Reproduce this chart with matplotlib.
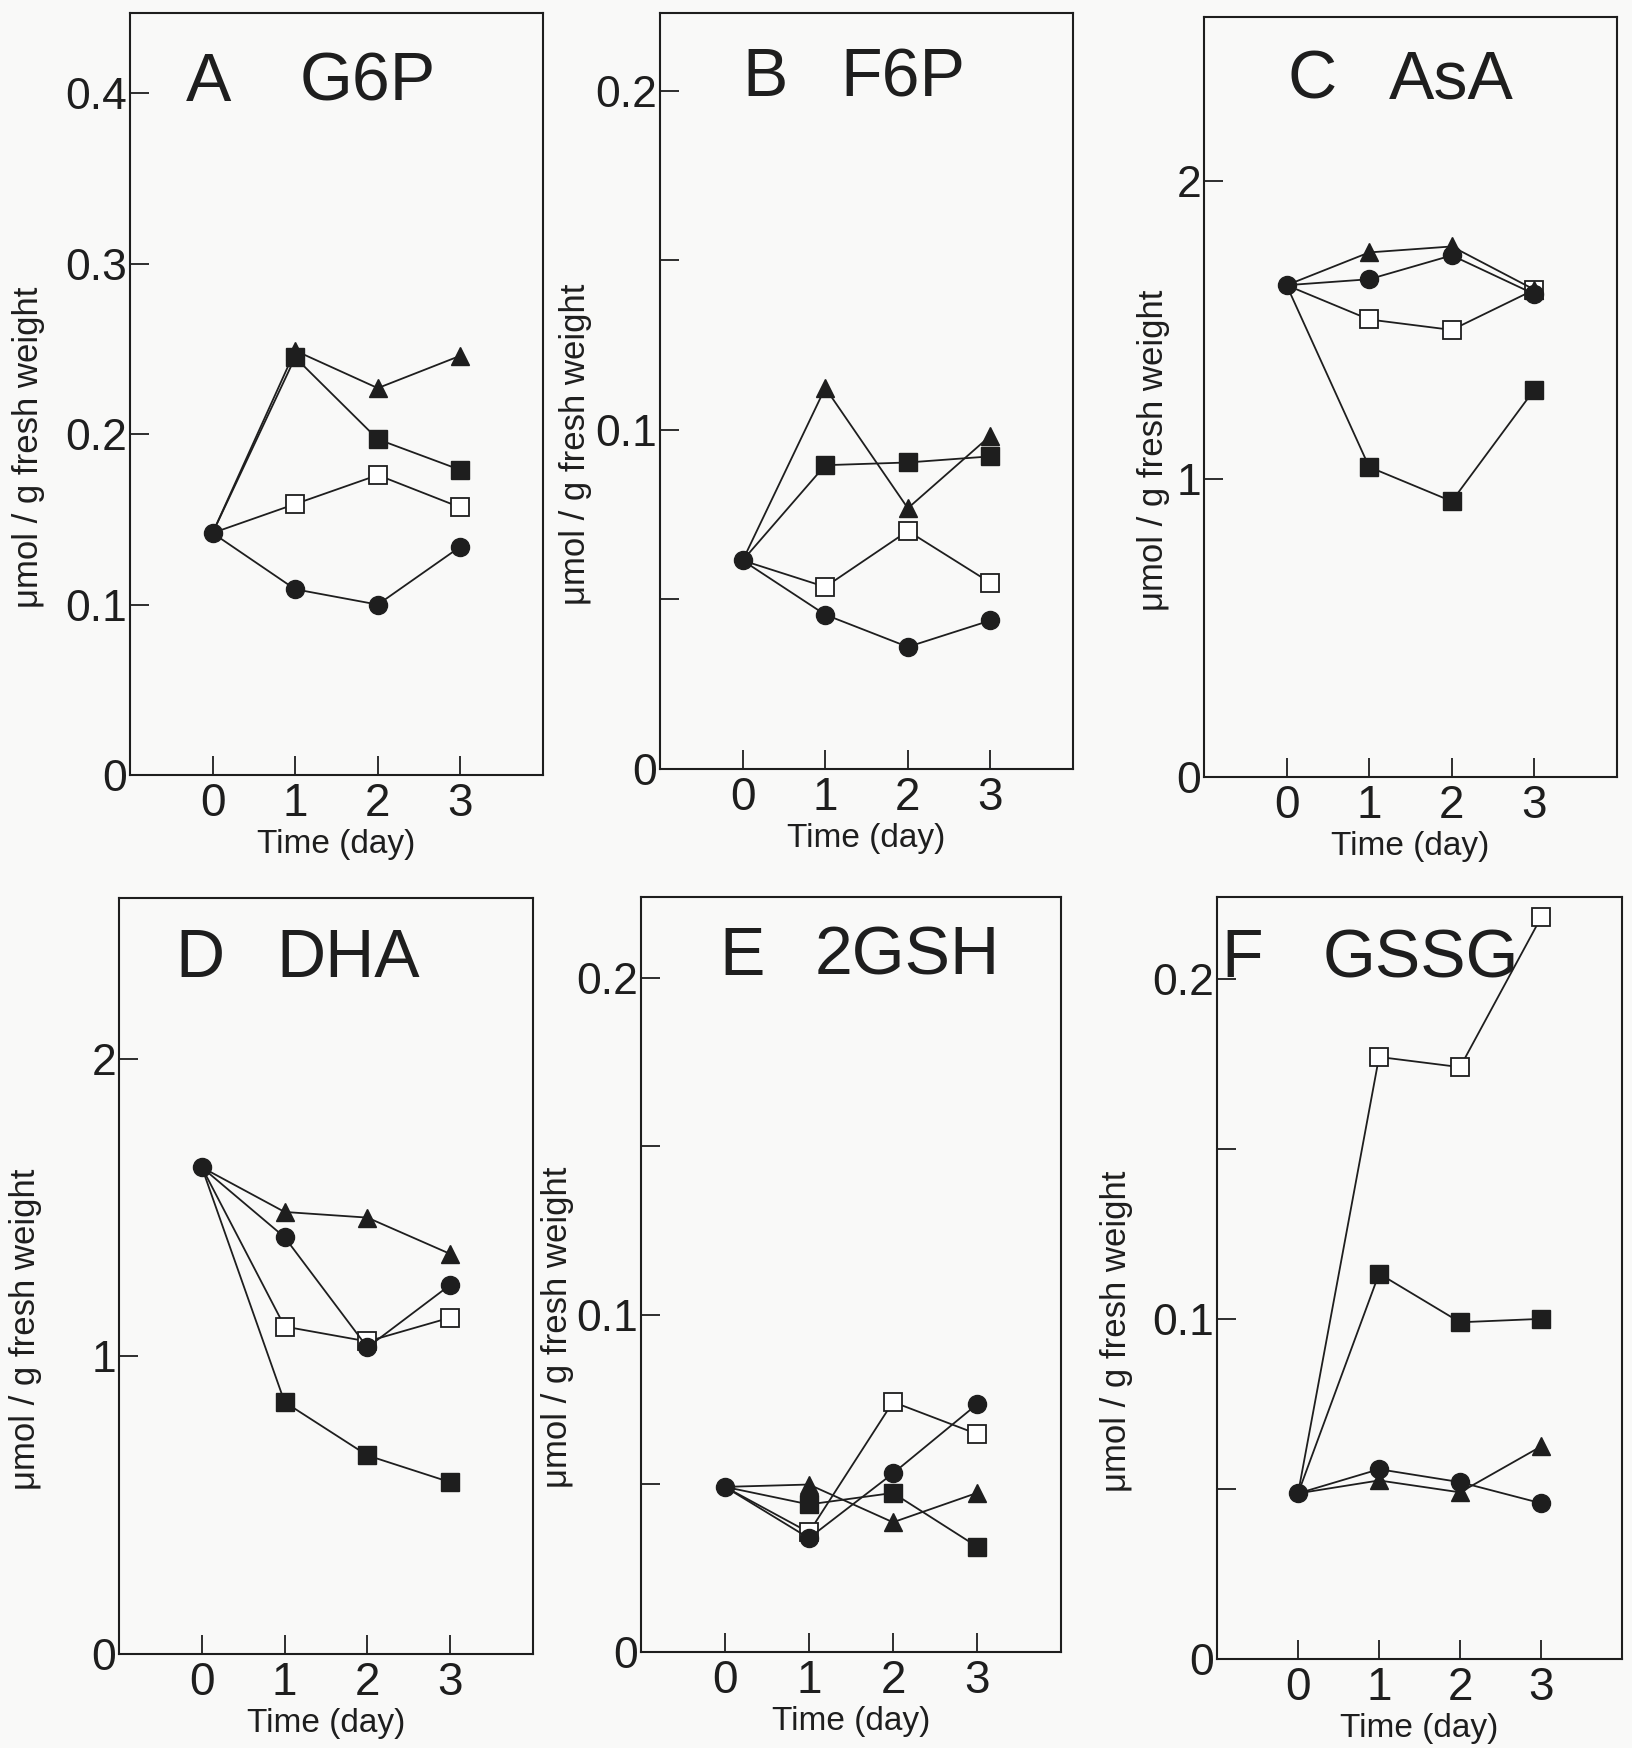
import matplotlib
matplotlib.use("Agg")
import matplotlib.pyplot as plt

# Time points (day)
days = [0, 1, 2, 3]

# Panel A: G6P
g6p_circle = [0.142, 0.109, 0.100, 0.134]
g6p_triangle = [0.142, 0.249, 0.227, 0.246]
g6p_filled_sq = [0.142, 0.245, 0.197, 0.179]
g6p_open_sq = [0.142, 0.159, 0.176, 0.157]

# Panel B: F6P
f6p_circle = [0.0615, 0.0455, 0.036, 0.0438]
f6p_triangle = [0.0615, 0.1124, 0.0769, 0.0983]
f6p_filled_sq = [0.0615, 0.0896, 0.0904, 0.0922]
f6p_open_sq = [0.0615, 0.0537, 0.0702, 0.0549]

# Panel C: AsA
asa_circle = [1.65, 1.67, 1.75, 1.62]
asa_triangle = [1.65, 1.76, 1.78, 1.635]
asa_filled_sq = [1.65, 1.04, 0.925, 1.30]
asa_open_sq = [1.65, 1.535, 1.50, 1.635]

# Panel D: DHA
dha_circle = [1.635, 1.40, 1.03, 1.24]
dha_triangle = [1.635, 1.485, 1.466, 1.344]
dha_filled_sq = [1.635, 0.846, 0.667, 0.577]
dha_open_sq = [1.635, 1.10, 1.05, 1.13]

# Panel E: 2GSH
gsh_circle = [0.049, 0.0338, 0.053, 0.0735]
gsh_triangle = [0.049, 0.0497, 0.0385, 0.0472]
gsh_filled_sq = [0.049, 0.0438, 0.0472, 0.0313]
gsh_open_sq = [0.049, 0.0355, 0.0742, 0.0647]

# Panel F: GSSG
gssg_circle = [0.0487, 0.0558, 0.052, 0.0458]
gssg_triangle = [0.0487, 0.0525, 0.049, 0.0625]
gssg_filled_sq = [0.0487, 0.1133, 0.099, 0.100]
gssg_open_sq = [0.0487, 0.177, 0.174, 0.218]

# Y axis ticks and labels
ticks_04 = [0, 0.1, 0.2, 0.3, 0.4]
labels_04 = ["0", "0.1", "0.2", "0.3", "0.4"]
ticks_02 = [0, 0.05, 0.1, 0.15, 0.2]
labels_02 = ["0", "", "0.1", "", "0.2"]
ticks_2 = [0, 1, 2]
labels_2 = ["0", "1", "2"]

INK = "#1e1e1e"
BG = "#f9f9f8"
TEXT_FONT = ["Liberation Sans", "DejaVu Sans"]

panels = [
    # letter, name, position, ymax, ticks, labels, series, title x (letter, name), title y, ylabel x
    ("A", "G6P", [0.0796, 0.5566, 0.2529, 0.4359], 0.447, ticks_04, labels_04,
     (g6p_circle, g6p_triangle, g6p_filled_sq, g6p_open_sq), (0.136, 0.41), 0.885, -0.205),
    ("B", "F6P", [0.4042, 0.5601, 0.2529, 0.4325], 0.223, ticks_02, labels_02,
     (f6p_circle, f6p_triangle, f6p_filled_sq, f6p_open_sq), (0.199, 0.436), 0.89, -0.165),
    ("C", "AsA", [0.7373, 0.5555, 0.2529, 0.4348], 2.55, ticks_2, labels_2,
     (asa_circle, asa_triangle, asa_filled_sq, asa_open_sq), (0.203, 0.448), 0.893, -0.082),
    ("D", "DHA", [0.0729, 0.0538, 0.2535, 0.4325], 2.54, ticks_2, labels_2,
     (dha_circle, dha_triangle, dha_filled_sq, dha_open_sq), (0.135, 0.38), 0.895, -0.185),
    ("E", "2GSH", [0.3925, 0.0549, 0.2572, 0.4319], 0.224, ticks_02, labels_02,
     (gsh_circle, gsh_triangle, gsh_filled_sq, gsh_open_sq), (0.186, 0.414), 0.897, -0.16),
    ("F", "GSSG", [0.7453, 0.0509, 0.2480, 0.4359], 0.224, ticks_02, labels_02,
     (gssg_circle, gssg_triangle, gssg_filled_sq, gssg_open_sq), (0.01, 0.26), 0.895, -0.208),
]


def draw_panel(fig, letter, name, pos, ymax, yticks, ylabels, series, title_x, title_y, ylabel_x):
    ax = fig.add_axes(pos)
    ax.set_facecolor(BG)
    circle, triangle, filled_sq, open_sq = series

    # the shared day-0 point is drawn only as a filled circle
    style = dict(color=INK, linewidth=1.3, markersize=13, clip_on=False)
    after_start = list(range(1, len(days)))
    ax.plot(days, open_sq, marker="s", markerfacecolor="white", markeredgecolor=INK,
            markeredgewidth=1.3, markevery=after_start, zorder=3, **style)
    ax.plot(days, filled_sq, marker="s", markerfacecolor=INK, markevery=after_start,
            zorder=4, **style)
    ax.plot(days, triangle, marker="^", markerfacecolor=INK, markevery=after_start,
            zorder=5, **style)
    ax.plot(days, circle, marker="o", markerfacecolor=INK, zorder=6, **style)

    ax.set_xlim(-1, 4)
    ax.set_ylim(0, ymax)
    ax.set_xticks(days)
    ax.set_xticklabels([str(d) for d in days], fontsize=33, family=TEXT_FONT)
    ax.set_yticks(yticks)
    ax.set_yticklabels(ylabels, fontsize=32, family=TEXT_FONT)
    ax.tick_params(direction="in", length=14, width=1.3, color=INK, labelcolor=INK)
    ax.tick_params(axis="y", pad=2)
    ax.tick_params(axis="x", pad=5)
    for spine in ax.spines.values():
        spine.set_linewidth(1.5)
        spine.set_color(INK)

    ax.set_xlabel("Time (day)", fontsize=24, family=TEXT_FONT, color=INK, labelpad=2)
    ax.set_ylabel("\u03bcmol / g fresh weight", fontsize=25, family=TEXT_FONT, color=INK)
    ax.yaxis.set_label_coords(ylabel_x, 0.43)

    ax.text(title_x[0], title_y, letter, transform=ax.transAxes, fontsize=49,
            family=TEXT_FONT, color=INK, va="baseline", ha="left")
    ax.text(title_x[1], title_y, name, transform=ax.transAxes, fontsize=49,
            family=TEXT_FONT, color=INK, va="baseline", ha="left")
    return ax


fig = plt.figure(figsize=(16.33, 17.48), dpi=100, facecolor=BG)
for p in panels:
    draw_panel(fig, *p)

fig.savefig("out.png", dpi=100, facecolor=BG)
